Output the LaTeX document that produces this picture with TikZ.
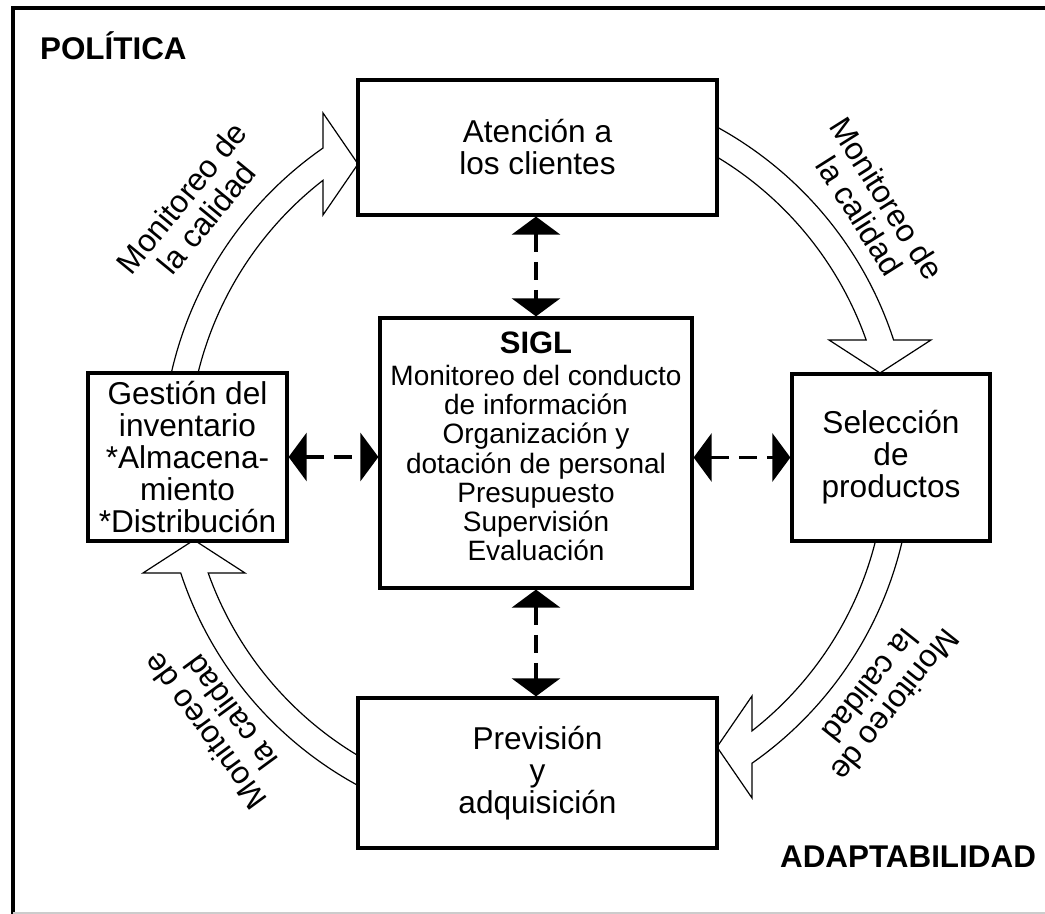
\documentclass[tikz,border=0pt]{standalone}
\usepackage{fontspec}
\setmainfont{Liberation Sans}
\usetikzlibrary{arrows.meta}
\tikzset{>=Latex}
\newcommand{\boxfont}{\fontsize{15.8}{16}\selectfont}
\newcommand{\siglfont}{\fontsize{14}{14.6}\selectfont}
\newcommand{\capfont}{\fontsize{15.7}{16}\selectfont\bfseries}
\tikzset{
  box/.style={draw, line width=1.6pt, align=center, inner sep=0pt, font=\boxfont},
  ring/.style={line width=0.6pt, line join=miter},
  ringlabel/.style={align=center, font=\boxfont},
  link/.style={line width=1.6pt, dash pattern=on 9pt off 5pt,
    {Triangle[length=9pt,width=24pt]}-{Triangle[length=9pt,width=24pt]}}
}

\begin{document}
\begin{tikzpicture}[x=0.5pt, y=0.5pt]
            \useasboundingbox (0,0) rectangle (1045,914);
            % frame
            \draw[line width=2pt] (1045,906) -- (13,906) -- (13,0);
            \draw[gray!40, line width=0.6pt] (13,1) -- (1045,1);
            \node[anchor=base west, font=\capfont] (pol) at (33,854) {POLÍTICA};
            \node[anchor=base east, font=\capfont] (adap) at (1043,46) {ADAPTABILIDAD};

            % quality cycle
            \coordinate (c) at (537,458);
            \begin{scope}[shift={(c)}]
                \draw[ring] (167.21:375) arc[start angle=167.21, end angle=124.80, radius=375]
                    -- (-214,343) -- (-179,292) -- (-214,241)
                    -- (127.82:349) arc[start angle=127.82, end angle=166.24, radius=349];
                \draw[ring] (61.31:375) arc[start angle=61.31, end angle=18.02, radius=375]
                    -- (394,116) -- (343,83) -- (292,116)
                    -- (19.41:349) arc[start angle=19.41, end angle=58.95, radius=349];
                \draw[ring] (-12.94:375) arc[start angle=-12.94, end angle=-55.02, radius=375]
                    -- (215,-342) -- (180,-291) -- (215,-240)
                    -- (-51.97:349) arc[start angle=-51.97, end angle=-13.93, radius=349];
                \draw[ring] (241.49:375) arc[start angle=241.49, end angle=198.18, radius=375]
                    -- (-394,-117) -- (-343,-84) -- (-292,-117)
                    -- (199.59:349) arc[start angle=199.59, end angle=239.14, radius=349];
                \node[ringlabel, rotate=50.6] (qtl) at (144.1:423.3) {Monitoreo de\\la calidad};
                \node[ringlabel, rotate=-57.7] (qtr) at (36.5:418.6) {Monitoreo de\\la calidad};
                \node[ringlabel, rotate=231.5] (qbr) at (-34.7:421) {Monitoreo de\\la calidad};
                \node[ringlabel, rotate=126.3] (qbl) at (219.8:415.7) {Monitoreo de\\la calidad};
            \end{scope}

            % boxes
            \node[box, minimum width=179.5pt, minimum height=67.5pt] (aten) at (537.5,766.5) {Atención a\\los clientes};
            \node[box, minimum width=179.5pt, minimum height=75pt] (prev) at (537.5,141) {Previsión\\y\\adquisición};
            \node[box, minimum width=99.5pt, minimum height=84pt] (gest) at (187.5,457) {Gestión del\\inventario\\*Almacena-\\miento\\*Distribución};
            \node[box, minimum width=99pt, minimum height=83.5pt] (sel) at (891,456.5) {Selección\\de\\productos};
            \node[box, minimum width=156pt, minimum height=135pt] (sigl) at (536,461) {};
            \node[align=center, font=\siglfont] (sigltxt) at ([yshift=3.2pt]sigl.center)
                {{\fontsize{15.5}{16}\selectfont\bfseries SIGL}\\[1.2pt]Monitoreo del conducto\\de información\\Organización y\\dotación de personal\\Presupuesto\\Supervisión\\Evaluación};

            % links to SIGL
            \draw[link] (sigl.north |- aten.south) -- (sigl.north);
            \draw[link] (sigl.south) -- (sigl.south |- prev.north);
            \draw[link] (gest.east) -- (gest.east -| sigl.west);
            \draw[link] (sigl.east |- sel.west) -- (sel.west);
        \end{tikzpicture}
\end{document}
